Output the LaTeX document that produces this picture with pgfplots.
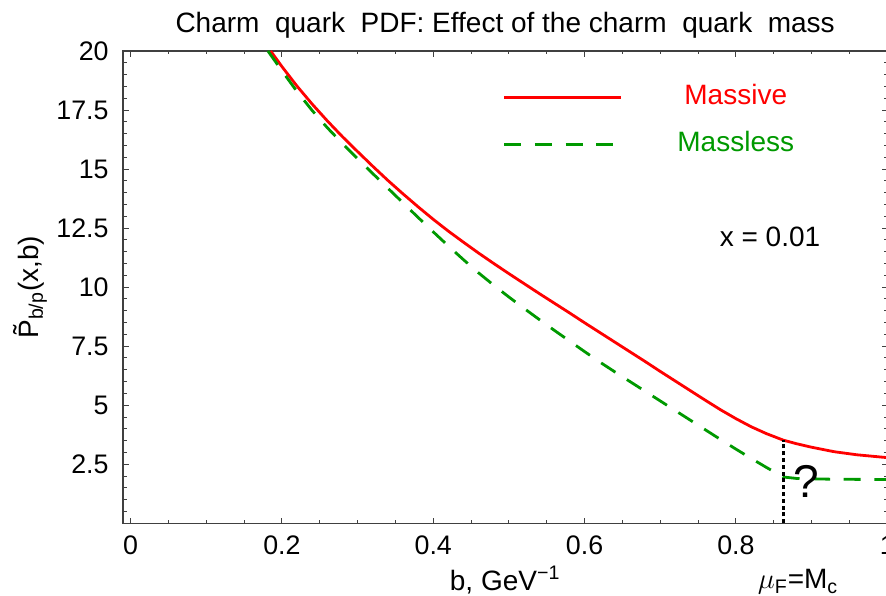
\documentclass[border=0pt]{standalone}
\usepackage{fontspec}
\setmainfont{Liberation Sans}
\usepackage{pgfplots}
\pgfplotsset{compat=1.18}
\definecolor{mgreen}{rgb}{0,0.6,0}
\begin{document}
\begin{tikzpicture}
\begin{axis}[name=ax,
 scale only axis, width=382.15pt, height=236.15pt,
 xmin=-0.01, xmax=1, ymin=0, ymax=20,
 xtick={0,0.2,0.4,0.6,0.8,1}, xticklabels={0,0.2,0.4,0.6,0.8,1},
 minor xtick={0,0.05,...,1},
 ytick={2.5,5,7.5,10,12.5,15,17.5,20}, yticklabels={2.5,5,7.5,10,12.5,15,17.5,20},
 minor ytick={0,0.5,...,20},
 tick align=inside, tick pos=both,
 major tick length=2.85pt, minor tick length=1.75pt,
 every tick/.style={black!75, line width=0.5pt},
 axis line style={black!75, line width=0.6pt},
 ticklabel style={font=\fontsize{13.4}{15}\selectfont},
 xticklabel style={anchor=base, yshift=-15.85pt, inner sep=0pt},
 yticklabel style={anchor=east, xshift=-7pt, inner sep=0pt},
 title={Charm\ \ quark\ \ PDF: Effect of the charm\ \ quark\ \ mass},
 title style={at={(axis description cs:0.5,1)}, anchor=base, yshift=3pt, font=\fontsize{14}{16}\selectfont},
 xlabel={b, GeV\textsuperscript{−1}},
 xlabel style={at={(axis description cs:0.5,0)}, anchor=base, yshift=-33.5pt, font=\fontsize{14}{16}\selectfont},
 ylabel={\~{P}\textsubscript{b/p}(x,b)},
 ylabel style={at={(axis description cs:-0.1106,0.5)}, anchor=base, font=\fontsize{14}{16}\selectfont},
 clip mode=individual,
 legend style={draw=none, fill=none, inner sep=0pt, outer sep=0pt,
   at={(axis cs:0.4921,18.57)}, anchor=north west,
   /tikz/column sep=26.5pt, /tikz/row sep=10.5pt,
   nodes={text width=60pt, align=center, text height=10pt, text depth=3pt, inner sep=0pt, font=\fontsize{14}{16}\selectfont}},
 legend cell align=center,
 legend image code/.code={\draw[#1] (0pt,0pt) -- (58.5pt,0pt);},
]
\addplot[red, line width=1.4pt] coordinates {
(0.1851,20.0) (0.20,19.34) (0.22,18.51) (0.24,17.75) (0.26,17.04) (0.28,16.37)
(0.30,15.74) (0.32,15.12) (0.34,14.52) (0.36,13.95) (0.38,13.40) (0.40,12.87)
(0.42,12.37) (0.44,11.90) (0.46,11.44) (0.48,11.00) (0.50,10.57) (0.52,10.15)
(0.54,9.73) (0.56,9.32) (0.58,8.91) (0.60,8.49) (0.62,8.08) (0.64,7.67)
(0.66,7.26) (0.68,6.85) (0.70,6.43) (0.72,6.02) (0.74,5.61) (0.76,5.2)
(0.78,4.8) (0.80,4.43) (0.82,4.09) (0.84,3.80) (0.8626,3.52)
(0.88,3.37) (0.90,3.22) (0.93,3.03) (0.96,2.9) (1.0,2.78)};
\addlegendentry{\textcolor{red}{Massive}}
\addplot[mgreen, line width=1.4pt, dash pattern=on 8.5pt off 6.8pt] coordinates {
(0.1815,20.0) (0.20,19.16) (0.22,18.28) (0.24,17.48) (0.26,16.75) (0.28,16.08)
(0.30,15.44) (0.32,14.81) (0.34,14.19) (0.36,13.57) (0.38,12.95) (0.40,12.34)
(0.42,11.74) (0.44,11.16) (0.46,10.6) (0.48,10.08) (0.50,9.58) (0.52,9.1)
(0.54,8.63) (0.56,8.17) (0.58,7.72) (0.60,7.27) (0.62,6.83) (0.64,6.41)
(0.66,6.0) (0.68,5.59) (0.70,5.18) (0.72,4.77) (0.74,4.36) (0.76,3.95)
(0.78,3.54) (0.80,3.14) (0.82,2.75) (0.84,2.37) (0.8626,1.96)
(0.88,1.9) (0.92,1.87) (0.96,1.86) (1.0,1.85)};
\addlegendentry{\textcolor{mgreen}{Massless}}
\addplot[black, line width=1.2pt, dash pattern=on 2pt off 1.4pt, forget plot] coordinates {(0.8626,0) (0.8626,3.52)};
\node[anchor=base, font=\fontsize{14}{16}\selectfont] at (axis cs:0.845,11.72) {x = 0.01};
\node[font=\fontsize{23}{26}\selectfont] at (axis cs:0.8926,1.79) {?};
\node[anchor=base, font=\fontsize{14}{16}\selectfont] at (axis cs:0.882,-2.77) {$\mu$\textsubscript{F}=M\textsubscript{c}};
\end{axis}
\pgfresetboundingbox
\path ([shift={(-61.5pt,-36.35pt)}]ax.south west) rectangle ([shift={(-0.65pt,25.5pt)}]ax.north east);
\end{tikzpicture}
\end{document}
